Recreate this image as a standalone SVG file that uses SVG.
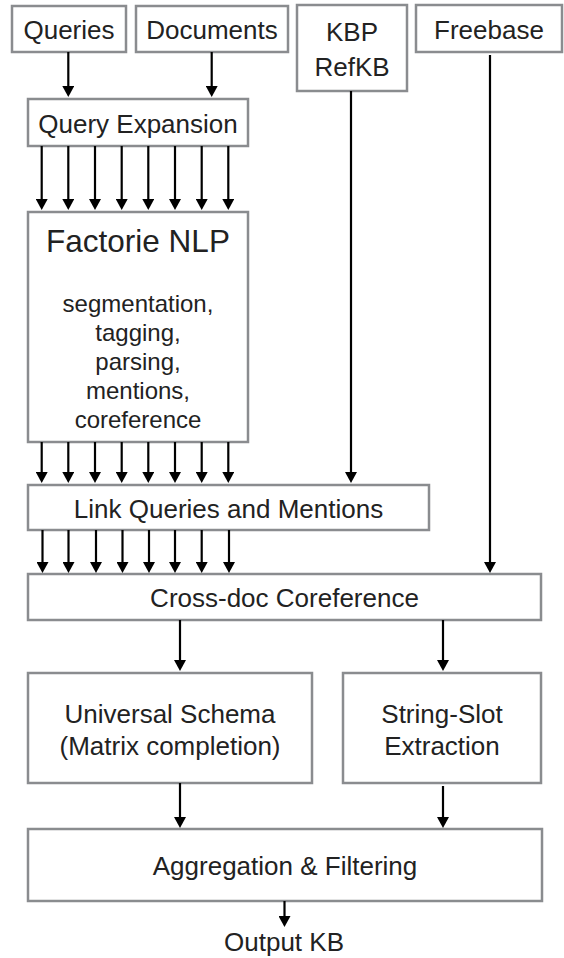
<svg xmlns="http://www.w3.org/2000/svg" width="564" height="958" viewBox="0 0 564 958">
  <style>
    .box { fill: #ffffff; stroke: #8a8c8f; stroke-width: 2.5; }
    .lbl { font-family: "Liberation Sans", Arial, sans-serif; font-size: 26px; fill: #222222; text-anchor: middle; }
    .title { font-size: 31.5px; }
    .sub { font-size: 24px; }
    .edge { stroke: #000000; stroke-width: 2.2; fill: none; marker-end: url(#head); }
  </style>
  <defs>
    <marker id="head" markerUnits="userSpaceOnUse" markerWidth="12" markerHeight="12" refX="1" refY="6" orient="auto">
      <path d="M0,0 L11,6 L0,12 z" fill="#000000"/>
    </marker>
  </defs>

  <rect width="564" height="958" fill="#ffffff"/>

  <!-- nodes -->
  <g id="queries">
    <rect class="box" x="12" y="6" width="114" height="46"/>
    <text class="lbl" x="69" y="38.5">Queries</text>
  </g>
  <g id="documents">
    <rect class="box" x="136" y="6" width="152" height="46"/>
    <text class="lbl" x="212" y="38.5">Documents</text>
  </g>
  <g id="kbp-refkb">
    <rect class="box" x="297" y="5" width="110" height="86"/>
    <text class="lbl" x="352" y="41">KBP</text>
    <text class="lbl" x="352" y="76">RefKB</text>
  </g>
  <g id="freebase">
    <rect class="box" x="416" y="5" width="146" height="47"/>
    <text class="lbl" x="489" y="38.5">Freebase</text>
  </g>
  <g id="query-expansion">
    <rect class="box" x="28" y="99" width="220" height="47"/>
    <text class="lbl" x="138" y="132.5">Query Expansion</text>
  </g>
  <g id="factorie-nlp">
    <rect class="box" x="28" y="212" width="220" height="230"/>
    <text class="lbl title" x="138" y="252">Factorie NLP</text>
    <text class="lbl sub" x="138" y="312">segmentation,</text>
    <text class="lbl sub" x="138" y="341">tagging,</text>
    <text class="lbl sub" x="138" y="370">parsing,</text>
    <text class="lbl sub" x="138" y="399">mentions,</text>
    <text class="lbl sub" x="138" y="428">coreference</text>
  </g>
  <g id="link-queries-mentions">
    <rect class="box" x="28" y="485" width="401" height="45"/>
    <text class="lbl" x="228.5" y="517.5">Link Queries and Mentions</text>
  </g>
  <g id="cross-doc-coref">
    <rect class="box" x="28" y="574" width="513" height="46"/>
    <text class="lbl" x="284.5" y="606.5">Cross-doc Coreference</text>
  </g>
  <g id="universal-schema">
    <rect class="box" x="28" y="673" width="284" height="110"/>
    <text class="lbl" x="170" y="722.5">Universal Schema</text>
    <text class="lbl" x="170" y="755">(Matrix completion)</text>
  </g>
  <g id="string-slot">
    <rect class="box" x="343" y="673" width="198" height="110"/>
    <text class="lbl" x="442" y="722.5">String-Slot</text>
    <text class="lbl" x="442" y="755">Extraction</text>
  </g>
  <g id="aggregation">
    <rect class="box" x="28" y="829" width="514" height="72"/>
    <text class="lbl" x="285" y="874.5">Aggregation &amp; Filtering</text>
  </g>
  <g id="output-kb">
    <text class="lbl" x="284" y="951">Output KB</text>
  </g>

  <!-- connectors (line ends 10px short of the arrow tip) -->
  <g id="connectors">
    <line class="edge" x1="68.3" y1="52" x2="68.3" y2="87"/>
    <line class="edge" x1="211.7" y1="52" x2="211.7" y2="87"/>

    <line class="edge" x1="41.7" y1="146" x2="41.7" y2="200"/>
    <line class="edge" x1="68.3" y1="146" x2="68.3" y2="200"/>
    <line class="edge" x1="95" y1="146" x2="95" y2="200"/>
    <line class="edge" x1="121.7" y1="146" x2="121.7" y2="200"/>
    <line class="edge" x1="148.3" y1="146" x2="148.3" y2="200"/>
    <line class="edge" x1="175" y1="146" x2="175" y2="200"/>
    <line class="edge" x1="201.7" y1="146" x2="201.7" y2="200"/>
    <line class="edge" x1="228.3" y1="146" x2="228.3" y2="200"/>

    <line class="edge" x1="41.7" y1="442" x2="41.7" y2="473"/>
    <line class="edge" x1="68.3" y1="442" x2="68.3" y2="473"/>
    <line class="edge" x1="95" y1="442" x2="95" y2="473"/>
    <line class="edge" x1="121.7" y1="442" x2="121.7" y2="473"/>
    <line class="edge" x1="148.3" y1="442" x2="148.3" y2="473"/>
    <line class="edge" x1="175" y1="442" x2="175" y2="473"/>
    <line class="edge" x1="201.7" y1="442" x2="201.7" y2="473"/>
    <line class="edge" x1="228.3" y1="442" x2="228.3" y2="473"/>
    <line class="edge" x1="351" y1="91" x2="351" y2="473"/>

    <line class="edge" x1="42.5" y1="530" x2="42.5" y2="563"/>
    <line class="edge" x1="68.5" y1="530" x2="68.5" y2="563"/>
    <line class="edge" x1="96" y1="530" x2="96" y2="563"/>
    <line class="edge" x1="122.5" y1="530" x2="122.5" y2="563"/>
    <line class="edge" x1="149" y1="530" x2="149" y2="563"/>
    <line class="edge" x1="175" y1="530" x2="175" y2="563"/>
    <line class="edge" x1="201.7" y1="530" x2="201.7" y2="563"/>
    <line class="edge" x1="229" y1="530" x2="229" y2="563"/>
    <line class="edge" x1="490" y1="55" x2="490" y2="563"/>

    <line class="edge" x1="180" y1="620" x2="180" y2="661"/>
    <line class="edge" x1="443" y1="620" x2="443" y2="661"/>

    <line class="edge" x1="180" y1="783" x2="180" y2="818"/>
    <line class="edge" x1="443" y1="786" x2="443" y2="818"/>

    <line class="edge" x1="284.5" y1="901" x2="284.5" y2="917"/>
  </g>
</svg>
